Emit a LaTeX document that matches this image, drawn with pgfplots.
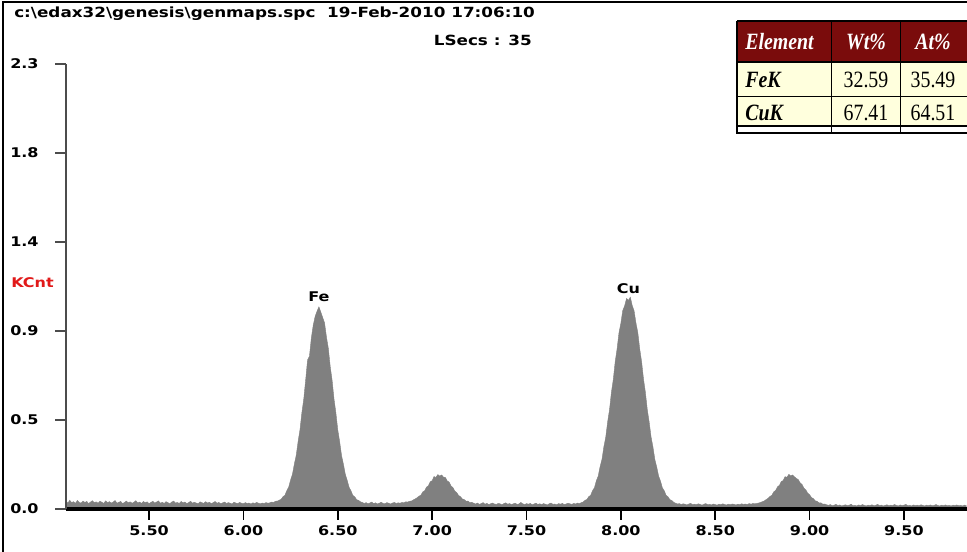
\documentclass[border=0pt]{standalone}
\usepackage{pgfplots}
\pgfplotsset{compat=1.18}
\usepackage{fontspec}
\newfontfamily\edaxfont[FakeStretch=1.2]{DejaVu Sans}
\newfontfamily\tabfont[FakeStretch=0.85]{Liberation Serif}
\newcommand\specfont{\edaxfont\bfseries\fontsize{10}{12}\selectfont}
\newcommand\headfont{\edaxfont\bfseries\fontsize{10.5}{12}\selectfont}
\definecolor{specgray}{RGB}{128,128,128}
\definecolor{hdrred}{RGB}{122,12,12}
\definecolor{rowyellow}{RGB}{255,255,221}
\definecolor{cntred}{RGB}{225,25,25}

\begin{document}
\begin{tikzpicture}
% page: 967 x 551 px at 0.75pt per px
\clip (0,0) rectangle (725.25pt,-413.25pt);
\fill[white] (0,0) rectangle (725.25pt,-413.25pt);

\begin{axis}[
  at={(49.5pt,-381.75pt)}, anchor=south west,
  scale only axis, width=675.75pt, height=333.75pt,
  xmin=5.06, xmax=9.834, ymin=0, ymax=2.3,
  axis x line*=bottom, axis y line*=left,
  axis on top,
  x axis line style={line width=2.4pt, black},
  y axis line style={line width=1.3pt, black!70},
  xtick={5.5,6,6.5,7,7.5,8,8.5,9,9.5},
  xticklabels={5.50,6.00,6.50,7.00,7.50,8.00,8.50,9.00,9.50},
  ytick={0,0.46,0.92,1.38,1.84,2.3},
  yticklabels={0.0,0.5,0.9,1.4,1.8,2.3},
  tick align=outside, major tick length=8pt,
  xtick style={line width=1.2pt, black},
  ytick style={line width=1.2pt, black!70},
  ticklabel style={font=\specfont},
  yticklabel style={anchor=west, inner sep=0pt, xshift=-34pt},
  xticklabel style={yshift=-1pt},
]
\addplot[fill=specgray, draw=specgray, line width=0.3pt] coordinates {
(5.06,0.040)(5.07,0.031)(5.08,0.045)(5.09,0.033)(5.10,0.038)(5.11,0.029)(5.12,0.044)(5.13,0.035)(5.14,0.030)(5.15,0.041)
(5.16,0.034)(5.17,0.039)(5.18,0.028)(5.19,0.036)(5.20,0.043)(5.21,0.032)(5.22,0.037)(5.23,0.030)(5.24,0.040)(5.25,0.035)
(5.26,0.029)(5.27,0.042)(5.28,0.033)(5.29,0.038)(5.30,0.031)(5.31,0.036)(5.32,0.044)(5.33,0.030)(5.34,0.035)(5.35,0.039)
(5.36,0.028)(5.37,0.034)(5.38,0.041)(5.39,0.032)(5.40,0.037)(5.41,0.030)(5.42,0.035)(5.43,0.043)(5.44,0.031)(5.45,0.036)
(5.46,0.029)(5.47,0.039)(5.48,0.033)(5.49,0.037)(5.50,0.028)(5.51,0.034)(5.52,0.040)(5.53,0.031)(5.54,0.036)(5.55,0.042)
(5.56,0.030)(5.57,0.035)(5.58,0.029)(5.59,0.038)(5.60,0.033)(5.61,0.027)(5.62,0.036)(5.63,0.041)(5.64,0.031)(5.65,0.034)
(5.66,0.029)(5.67,0.039)(5.68,0.032)(5.69,0.036)(5.70,0.028)(5.71,0.033)(5.72,0.040)(5.73,0.030)(5.74,0.035)(5.75,0.031)
(5.76,0.027)(5.77,0.037)(5.78,0.033)(5.79,0.029)(5.80,0.038)(5.81,0.031)(5.82,0.035)(5.83,0.028)(5.84,0.033)(5.85,0.039)
(5.86,0.030)(5.87,0.034)(5.88,0.027)(5.89,0.032)(5.90,0.036)(5.91,0.029)(5.92,0.033)(5.93,0.030)(5.94,0.026)(5.95,0.035)
(5.96,0.031)(5.97,0.028)(5.98,0.034)(5.99,0.030)(6.00,0.027)(6.01,0.033)(6.02,0.029)(6.03,0.031)(6.04,0.026)(6.05,0.032)
(6.06,0.029)(6.07,0.034)(6.08,0.030)(6.09,0.027)(6.10,0.031)(6.11,0.029)(6.12,0.033)(6.13,0.030)(6.14,0.032)(6.15,0.036)
(6.16,0.034)(6.17,0.040)
(6.18,0.041)(6.19,0.046)(6.20,0.050)(6.21,0.064)(6.22,0.071)(6.23,0.095)(6.24,0.113)(6.25,0.150)(6.26,0.180)(6.27,0.233)
(6.28,0.278)(6.29,0.350)(6.30,0.411)(6.31,0.499)(6.32,0.570)(6.33,0.668)(6.34,0.771)(6.35,0.790)(6.36,0.884)(6.37,0.950)
(6.38,0.995)(6.39,1.022)(6.40,1.045)(6.41,1.018)(6.42,0.990)(6.43,0.962)(6.44,0.889)(6.45,0.830)(6.46,0.736)(6.47,0.665)
(6.48,0.569)(6.49,0.497)(6.50,0.409)(6.51,0.348)(6.52,0.276)(6.53,0.231)(6.54,0.179)(6.55,0.148)(6.56,0.112)(6.57,0.094)
(6.58,0.070)(6.59,0.063)(6.60,0.048)(6.61,0.045)(6.62,0.037)
(6.63,0.034)(6.64,0.029)(6.65,0.033)(6.66,0.027)(6.67,0.031)(6.68,0.036)(6.69,0.028)(6.70,0.032)(6.71,0.026)(6.72,0.030)
(6.73,0.035)(6.74,0.029)(6.75,0.027)(6.76,0.033)(6.77,0.030)(6.78,0.026)(6.79,0.031)(6.80,0.034)(6.81,0.029)(6.82,0.032)
(6.83,0.030)(6.84,0.034)(6.85,0.032)(6.86,0.037)
(6.87,0.036)(6.88,0.040)(6.89,0.041)(6.90,0.047)(6.91,0.052)(6.92,0.058)(6.93,0.066)(6.94,0.071)(6.95,0.088)(6.96,0.094)
(6.97,0.113)(6.98,0.120)(6.99,0.141)(7.00,0.146)(7.01,0.168)(7.02,0.163)(7.03,0.178)(7.04,0.170)(7.05,0.176)(7.06,0.165)
(7.07,0.163)(7.08,0.145)(7.09,0.139)(7.10,0.119)(7.11,0.111)(7.12,0.093)(7.13,0.085)(7.14,0.070)(7.15,0.064)(7.16,0.052)
(7.17,0.049)(7.18,0.040)(7.19,0.041)(7.20,0.033)(7.21,0.035)
(7.22,0.030)(7.23,0.026)(7.24,0.031)(7.25,0.024)(7.26,0.028)(7.27,0.033)(7.28,0.025)(7.29,0.029)(7.30,0.023)(7.31,0.027)
(7.32,0.031)(7.33,0.026)(7.34,0.024)(7.35,0.029)(7.36,0.027)(7.37,0.022)(7.38,0.028)(7.39,0.032)(7.40,0.025)(7.41,0.028)
(7.42,0.023)(7.43,0.027)(7.44,0.030)(7.45,0.024)(7.46,0.026)(7.47,0.034)(7.48,0.027)(7.49,0.023)(7.50,0.028)(7.51,0.025)
(7.52,0.029)(7.53,0.022)(7.54,0.026)(7.55,0.030)(7.56,0.024)(7.57,0.027)(7.58,0.023)(7.59,0.028)(7.60,0.025)(7.61,0.021)
(7.62,0.027)(7.63,0.031)(7.64,0.024)(7.65,0.026)(7.66,0.022)(7.67,0.028)(7.68,0.025)(7.69,0.029)(7.70,0.023)(7.71,0.026)
(7.72,0.030)(7.73,0.027)(7.74,0.024)(7.75,0.029)(7.76,0.026)(7.77,0.031)(7.78,0.028)(7.79,0.033)
(7.80,0.036)(7.81,0.045)(7.82,0.049)(7.83,0.064)(7.84,0.071)(7.85,0.095)(7.86,0.110)(7.87,0.146)(7.88,0.170)(7.89,0.219)
(7.90,0.257)(7.91,0.322)(7.92,0.372)(7.93,0.451)(7.94,0.514)(7.95,0.604)(7.96,0.670)(7.97,0.762)(7.98,0.828)(7.99,0.911)
(8.00,0.960)(8.01,1.026)(8.02,1.050)(8.03,1.088)(8.04,1.078)(8.05,1.095)(8.06,1.052)(8.07,1.024)(8.08,0.961)(8.09,0.910)
(8.10,0.826)(8.11,0.760)(8.12,0.671)(8.13,0.602)(8.14,0.513)(8.15,0.449)(8.16,0.372)(8.17,0.320)(8.18,0.256)(8.19,0.217)
(8.20,0.170)(8.21,0.144)(8.22,0.109)(8.23,0.094)(8.24,0.070)(8.25,0.063)(8.26,0.048)(8.27,0.044)(8.28,0.035)
(8.29,0.030)(8.30,0.026)(8.31,0.028)(8.32,0.023)(8.33,0.027)(8.34,0.025)(8.35,0.021)(8.36,0.026)(8.37,0.029)(8.38,0.023)
(8.39,0.025)(8.40,0.022)(8.41,0.027)(8.42,0.024)(8.43,0.020)(8.44,0.025)(8.45,0.028)(8.46,0.022)(8.47,0.024)(8.48,0.021)
(8.49,0.026)(8.50,0.023)(8.51,0.020)(8.52,0.025)(8.53,0.022)(8.54,0.027)(8.55,0.023)(8.56,0.021)(8.57,0.025)(8.58,0.022)
(8.59,0.026)(8.60,0.024)(8.61,0.021)(8.62,0.025)(8.63,0.023)(8.64,0.027)(8.65,0.024)(8.66,0.026)(8.67,0.023)(8.68,0.028)
(8.69,0.025)(8.70,0.029)(8.71,0.027)
(8.72,0.029)(8.73,0.031)(8.74,0.034)(8.75,0.038)(8.76,0.042)(8.77,0.049)(8.78,0.055)(8.79,0.065)(8.80,0.071)(8.81,0.089)
(8.82,0.096)(8.83,0.115)(8.84,0.122)(8.85,0.142)(8.86,0.147)(8.87,0.167)(8.88,0.164)(8.89,0.179)(8.90,0.171)(8.91,0.176)
(8.92,0.166)(8.93,0.158)(8.94,0.152)(8.95,0.135)(8.96,0.127)(8.97,0.108)(8.98,0.099)(8.99,0.082)(9.00,0.074)(9.01,0.059)
(9.02,0.054)(9.03,0.042)(9.04,0.040)(9.05,0.031)(9.06,0.032)(9.07,0.025)(9.08,0.026)
(9.09,0.022)(9.10,0.019)(9.11,0.023)(9.12,0.017)(9.13,0.020)(9.14,0.024)(9.15,0.018)(9.16,0.021)(9.17,0.016)(9.18,0.019)
(9.19,0.022)(9.20,0.018)(9.21,0.020)(9.22,0.025)(9.23,0.017)(9.24,0.019)(9.25,0.016)(9.26,0.021)(9.27,0.018)(9.28,0.023)
(9.29,0.019)(9.30,0.016)(9.31,0.020)(9.32,0.018)(9.33,0.022)(9.34,0.017)(9.35,0.019)(9.36,0.024)(9.37,0.018)(9.38,0.020)
(9.39,0.016)(9.40,0.019)(9.41,0.022)(9.42,0.017)(9.43,0.020)(9.44,0.018)(9.45,0.023)(9.46,0.019)(9.47,0.016)(9.48,0.021)
(9.49,0.018)(9.50,0.020)(9.51,0.024)(9.52,0.017)(9.53,0.019)(9.54,0.016)(9.55,0.021)(9.56,0.018)(9.57,0.020)(9.58,0.017)
(9.59,0.022)(9.60,0.019)(9.61,0.016)(9.62,0.020)(9.63,0.018)(9.64,0.021)(9.65,0.017)(9.66,0.019)(9.67,0.023)(9.68,0.018)
(9.69,0.016)(9.70,0.020)(9.71,0.018)(9.72,0.021)(9.73,0.017)(9.74,0.019)(9.75,0.016)(9.76,0.020)(9.77,0.018)(9.78,0.021)
(9.79,0.017)(9.80,0.019)(9.81,0.016)(9.82,0.020)(9.83,0.018)
} \closedcycle;
\node[font=\specfont] at (axis cs:6.40,1.095) {Fe};
\node[font=\specfont] at (axis cs:8.04,1.137) {Cu};
\end{axis}

\begin{scope}[x=0.75pt, y=-0.75pt]
  % window frame
  \draw[line width=1.5pt, black] (3,560) -- (3,2) -- (980,2);
  % file name, date and live time
  \node[font=\headfont, anchor=west, inner sep=0pt] at (14,14)
    {c:\textbackslash edax32\textbackslash genesis\textbackslash genmaps.spc\ \ 19-Feb-2010 17:06:10};
  \node[font=\headfont, anchor=east, inner sep=0pt] at (532,40) {LSecs : 35};
  % y axis unit
  \node[font=\specfont, text=cntred, anchor=west, inner sep=0pt] at (11,283) {KCnt};

  % quantification table
  \fill[hdrred] (737,21) rectangle (980,62);
  \fill[rowyellow] (737,62) rectangle (980,126);
  \draw[line width=0.8pt] (737,21) -- (980,21);
  \draw[line width=0.8pt] (737,21) -- (737,134);
  \draw[line width=0.7pt] (831,21) -- (831,134);
  \draw[line width=0.7pt] (900,21) -- (900,134);
  \draw[line width=1.0pt] (737,62) -- (980,62);
  \draw[line width=1.4pt] (737,96.5) -- (980,96.5);
  \draw[line width=2.2pt] (737,126) -- (980,126);
  \draw[line width=2.2pt] (737,133) -- (980,133);
  \begin{scope}[every node/.style={inner sep=0pt, font=\tabfont\fontsize{17.5}{18}\selectfont}]
    \node[text=white, anchor=west] at (745,42) {\bfseries\itshape Element};
    \node[text=white] at (866,42) {\bfseries\itshape Wt\%};
    \node[text=white] at (933,42) {\bfseries\itshape At\%};
    \node[anchor=west] at (745,80) {\bfseries\itshape FeK};
    \node at (866,80) {32.59};
    \node at (933,80) {35.49};
    \node[anchor=west] at (745,113) {\bfseries\itshape CuK};
    \node at (866,113) {67.41};
    \node at (933,113) {64.51};
  \end{scope}
\end{scope}
\end{tikzpicture}
\end{document}
